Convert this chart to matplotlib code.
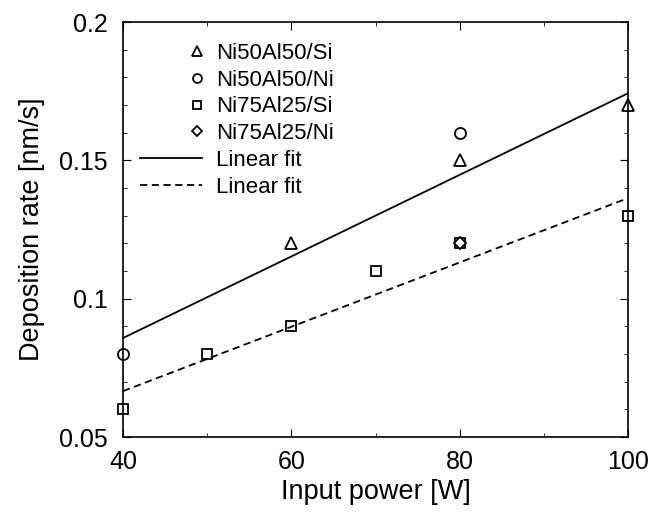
import numpy as np
import matplotlib
matplotlib.use("Agg")
import matplotlib.pyplot as plt
from matplotlib.ticker import MultipleLocator
from matplotlib.legend_handler import HandlerLine2D

plt.rcParams['font.family'] = ['Liberation Sans', 'DejaVu Sans']

# data
si50_x = [60, 80, 100]
si50_y = [0.12, 0.15, 0.17]
ni50_x = [40, 80]
ni50_y = [0.08, 0.16]
si75_x = [40, 50, 60, 70, 80, 100]
si75_y = [0.06, 0.08, 0.09, 0.11, 0.12, 0.13]
ni75_x = [80]
ni75_y = [0.12]

# linear fits (slope, intercept)
fit_solid = (0.001475, 0.0268)
fit_dashed = (0.001163, 0.0201)
fit_x = np.array([40, 100])


class RightMarker(HandlerLine2D):
    # marker at the right end of the handle, like the original
    # (numpoints=1 puts the marker at the middle of the x range, so shrink it)
    def get_xdata(self, legend, xdescent, ydescent, width, height, fontsize):
        m = -xdescent + width - 0.25 * fontsize
        xd = np.array([m - 0.5, m + 0.5])
        return xd, np.array([m])


fig = plt.figure(figsize=(6.51, 5.13), dpi=100)
ax = fig.add_axes([0.189, 0.148, 0.776, 0.809])

mk = dict(linestyle='none', mfc='white', mec='black', mew=1.3, clip_on=False)
h1, = ax.plot(si50_x, si50_y, marker='^', ms=8.5, label='Ni50Al50/Si', **mk)
h2, = ax.plot(ni50_x, ni50_y, marker='o', ms=8, label='Ni50Al50/Ni', **mk)
h3, = ax.plot(si75_x, si75_y, marker='s', ms=7.5, label='Ni75Al25/Si', **mk)
h4, = ax.plot(ni75_x, ni75_y, marker='D', ms=6.5, label='Ni75Al25/Ni', **mk)
ax.plot(fit_x, fit_solid[0]*fit_x + fit_solid[1], 'k-', lw=1.3, label='Linear fit')
ax.plot(fit_x, fit_dashed[0]*fit_x + fit_dashed[1], color='k', ls=(0, (4, 2.5)), lw=1.3,
        label='Linear fit')

ax.set_xlim(40, 100)
ax.set_ylim(0.05, 0.2)
ax.set_xticks([40, 60, 80, 100])
ax.set_yticks([0.05, 0.1, 0.15, 0.2])
ax.set_yticklabels(['0.05', '0.1', '0.15', '0.2'])
ax.xaxis.set_minor_locator(MultipleLocator(10))
ax.yaxis.set_minor_locator(MultipleLocator(0.01))
ax.tick_params(which='both', direction='in', top=True, right=True, labelsize=18)
ax.tick_params(axis='x', pad=9)
ax.tick_params(axis='y', pad=11)
ax.tick_params(which='major', length=6)
ax.tick_params(which='minor', length=3)
for s in ax.spines.values():
    s.set_linewidth(1.2)

ax.set_xlabel('Input power [W]', fontsize=19.5, labelpad=4)
ax.set_ylabel('Deposition rate [nm/s]', fontsize=19.5, labelpad=10)

ax.legend(loc='upper left', bbox_to_anchor=(0.034, 0.95), frameon=False, fontsize=16,
          borderpad=0, borderaxespad=0, numpoints=1, markerscale=0.8,
          handlelength=2.8, handletextpad=0.6, labelspacing=0.26,
          handler_map={h: RightMarker() for h in (h1, h2, h3, h4)})

fig.savefig('out.png', dpi=100)
